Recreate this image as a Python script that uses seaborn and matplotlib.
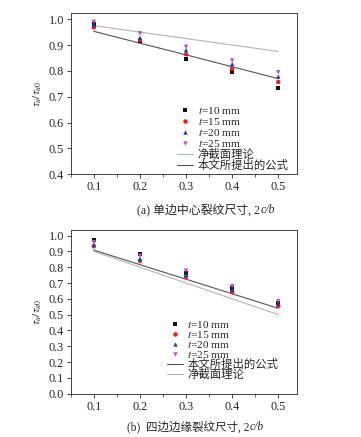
import matplotlib
matplotlib.use("Agg")
import matplotlib.pyplot as plt
import seaborn as sns
import pandas as pd
from matplotlib.ticker import MultipleLocator

# ---------------- data ----------------
crack = [0.1, 0.2, 0.3, 0.4, 0.5]
series_labels = ["10", "15", "20", "25"]

a_t10 = [0.980, 0.915, 0.847, 0.797, 0.733]
a_t15 = [0.968, 0.919, 0.864, 0.808, 0.757]
a_t20 = [0.977, 0.928, 0.880, 0.826, 0.778]
a_t25 = [0.990, 0.945, 0.893, 0.840, 0.795]
a_net = [0.975, 0.950, 0.925, 0.900, 0.875]
a_formula = [0.953, 0.907, 0.862, 0.816, 0.770]

b_t10 = [0.970, 0.883, 0.765, 0.665, 0.575]
b_t15 = [0.932, 0.840, 0.738, 0.642, 0.555]
b_t20 = [0.943, 0.852, 0.752, 0.658, 0.568]
b_t25 = [0.958, 0.872, 0.778, 0.680, 0.585]
b_net = [0.900, 0.800, 0.700, 0.600, 0.500]
b_formula = [0.908, 0.816, 0.724, 0.632, 0.540]

label_net = "净截面理论"
label_formula = "本文所提出的公式"
caption_a = "(a) 单边中心裂纹尺寸, 2"
caption_b = "(b)  四边边缘裂纹尺寸, 2"
caption_var = "c/b"

# ---------------- style ----------------
sns.set_style("ticks")
plt.rcParams["font.family"] = ["Liberation Serif", "Noto Sans CJK SC"]
plt.rcParams["mathtext.fontset"] = "stix"
plt.rcParams["axes.linewidth"] = 0.6

colors = ["#111111", "#ee1c1c", "#2040b0", "#c050c0"]
markers = ["s", "o", "^", "v"]
c_net = "#b4b4b4"
c_formula = "#555555"

fig = plt.figure(figsize=(3.61, 4.37), dpi=100)
ax_a = fig.add_axes([0.196, 0.601, 0.626, 0.370])
ax_b = fig.add_axes([0.196, 0.099, 0.626, 0.375])


def draw(ax, ts, net, formula, order_formula_first):
    pts = []
    for lab, vals in zip(series_labels, ts):
        for x, v in zip(crack, vals):
            pts.append({"x": x, "y": v, "t": lab})
    df = pd.DataFrame(pts)
    lines = pd.DataFrame({"x": crack * 2, "y": net + formula,
                          "kind": [label_net] * len(crack) + [label_formula] * len(crack)})
    sns.lineplot(data=lines[lines.kind == label_net], x="x", y="y", color=c_net,
                 lw=0.8, ax=ax, legend=False)
    sns.lineplot(data=lines[lines.kind == label_formula], x="x", y="y", color=c_formula,
                 lw=0.8, ax=ax, legend=False)
    handles = []
    for lab, col, mk in zip(series_labels, colors, markers):
        sub = df[df.t == lab]
        sns.scatterplot(data=sub, x="x", y="y", color=col, marker=mk, s=10,
                        edgecolor="none", ax=ax, legend=False, zorder=3)
        handles.append(plt.Line2D([], [], ls="none", marker=mk, color=col, markersize=3.2,
                                  markeredgewidth=0))
    h_net = plt.Line2D([], [], color=c_net, lw=0.8)
    h_form = plt.Line2D([], [], color=c_formula, lw=0.8)
    labels = ["$t$=10 mm", "$t$=15 mm", "$t$=20 mm", "$t$=25 mm"]
    if order_formula_first:
        handles += [h_form, h_net]
        labels += [label_formula, label_net]
    else:
        handles += [h_net, h_form]
        labels += [label_net, label_formula]
    return handles, labels


h, l = draw(ax_a, [a_t10, a_t15, a_t20, a_t25], a_net, a_formula, False)
ax_a.legend(h, l, loc="lower left", bbox_to_anchor=(0.43, -0.035), frameon=False,
            fontsize=8.2, labelspacing=0.0, handlelength=1.4, handletextpad=0.4,
            borderpad=0.3)
h, l = draw(ax_b, [b_t10, b_t15, b_t20, b_t25], b_net, b_formula, True)
ax_b.legend(h, l, loc="lower left", bbox_to_anchor=(0.385, 0.03), frameon=False,
            fontsize=8.2, labelspacing=-0.1, handlelength=1.4, handletextpad=0.4,
            borderpad=0.3)

for ax, ylim in [(ax_a, (0.4, 1.025)), (ax_b, (0.0, 1.036))]:
    ax.set_xlim(0.05, 0.54)
    ax.set_ylim(*ylim)
    ax.xaxis.set_major_locator(MultipleLocator(0.1))
    ax.xaxis.set_minor_locator(MultipleLocator(0.05))
    ax.yaxis.set_major_locator(MultipleLocator(0.1))
    ax.tick_params(axis="both", which="major", direction="out", length=3, width=0.6,
                   labelsize=8.8, pad=2, top=False, right=False)
    ax.tick_params(axis="x", which="minor", direction="out", length=2, width=0.5)
    ax.set_xticks(ax.get_xticks())
    ax.set_xticklabels([f"{v:.1f}" for v in ax.get_xticks()])
    ax.set_yticks(ax.get_yticks())
    ax.set_yticklabels([f"{v:.1f}" for v in ax.get_yticks()])
    ax.set_ylim(*ylim)
    ax.set_xlim(0.05, 0.54)
    ax.set_xlabel("")
    ax.set_ylabel(r"$\tau_u/\tau_{u0}$", fontsize=8, labelpad=3)
    for s in ax.spines.values():
        s.set_visible(True)
        s.set_linewidth(0.6)

# captions (plain part + italic variable part)
fig.canvas.draw()
renderer = fig.canvas.get_renderer()
for cap, x0, y0, fs in [(caption_a, 137 / 361, 1 - 213 / 437, 8.6),
                        (caption_b, 127 / 361, 1 - 430 / 437, 8.3)]:
    t1 = fig.text(x0, y0, cap, fontsize=fs, ha="left", va="baseline")
    bb = t1.get_window_extent(renderer=renderer)
    x1 = bb.x1 / fig.bbox.width
    fig.text(x1 + 0.002, y0, caption_var, fontsize=fs, style="italic",
             ha="left", va="baseline")

fig.savefig("out.png", dpi=100)
